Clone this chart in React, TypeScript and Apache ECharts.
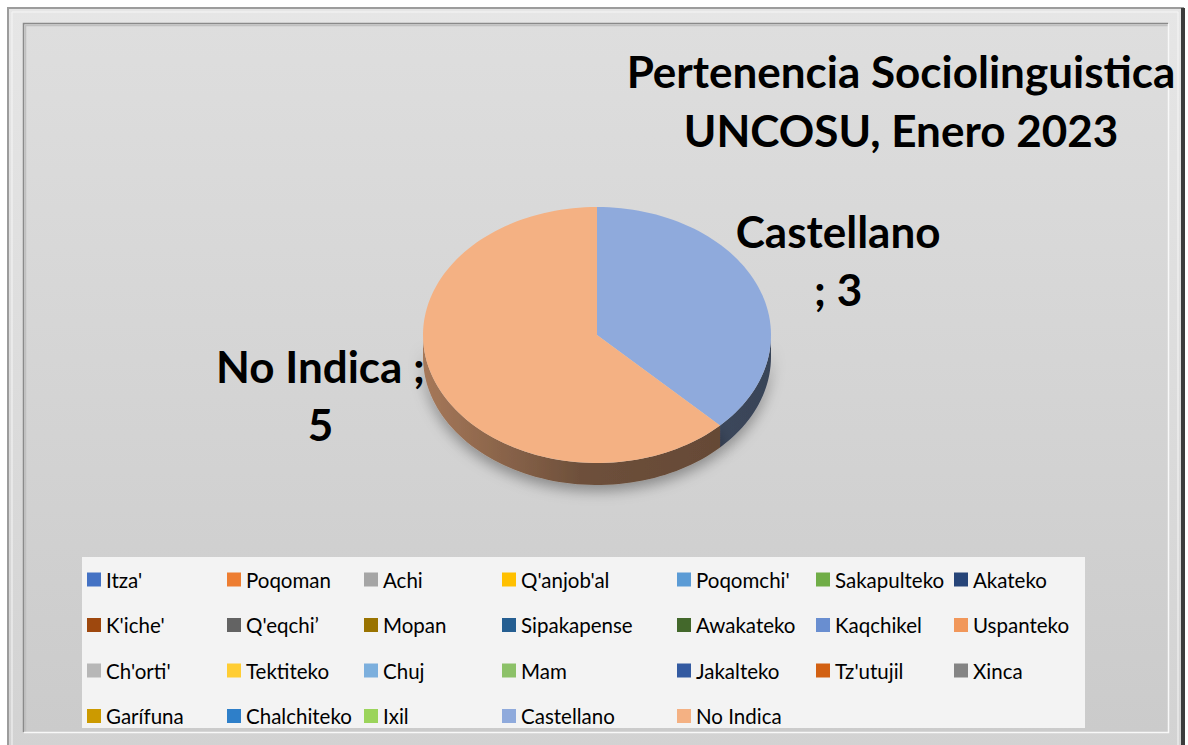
import React, { useEffect, useRef } from "react";
import * as echarts from "echarts";

// ---- data ----
const categories: string[] = [
  "Itza'", "Poqoman", "Achi", "Q'anjob'al", "Poqomchi'", "Sakapulteko", "Akateko",
  "K'iche'", "Q'eqchi’", "Mopan", "Sipakapense", "Awakateko", "Kaqchikel", "Uspanteko",
  "Ch'orti'", "Tektiteko", "Chuj", "Mam", "Jakalteko", "Tz'utujil", "Xinca",
  "Garífuna", "Chalchiteko", "Ixil", "Castellano", "No Indica",
];
const values: number[] = [
  0, 0, 0, 0, 0, 0, 0,
  0, 0, 0, 0, 0, 0, 0,
  0, 0, 0, 0, 0, 0, 0,
  0, 0, 0, 3, 5,
];
const colors: string[] = [
  "#4472c4", "#ed7d31", "#a5a5a5", "#ffc000", "#5b9bd5", "#70ad47", "#264478",
  "#9e480e", "#636363", "#997300", "#255e91", "#43682b", "#698ed0", "#f1975a",
  "#b7b7b7", "#ffcd33", "#7cafdd", "#8cc168", "#335aa1", "#d26012", "#848484",
  "#cc9a00", "#2e7fc9", "#9bd45b", "#8faadc", "#f4b183",
];
const titleLines: string[] = ["Pertenencia Sociolinguistica", "UNCOSU, Enero 2023"];

// ---- layout ----
const W = 1188;
const H = 745;
const CX = 597;
const CY = 335;
const RX = 174;
const RY = 128;
const DEPTH = 22;
const LEGEND_COLS = 7;
const LEGEND_X = [87, 227, 364, 502, 677, 816, 954];
const FONT = "Lato, 'Open Sans', sans-serif";

const total = values.reduce((a, b) => a + b, 0);
const startOf = (k: number) => values.slice(0, k).reduce((a, b) => a + b, 0);

function shade(hex: string, f: number): string {
  const h = hex.replace("#", "");
  const r = Math.round(parseInt(h.slice(0, 2), 16) * f);
  const g = Math.round(parseInt(h.slice(2, 4), 16) * f);
  const b = Math.round(parseInt(h.slice(4, 6), 16) * f);
  return `rgb(${r},${g},${b})`;
}

function wrapLabel(text: string, maxChars: number): string {
  const words = text.split(" ");
  const lines: string[] = [];
  let cur = "";
  for (const w of words) {
    const next = cur ? cur + " " + w : w;
    if (next.length > maxChars && cur) {
      lines.push(cur);
      cur = w;
    } else cur = next;
  }
  if (cur) lines.push(cur);
  return lines.join("\n");
}

const pt = (t: number, dy = 0) => [CX + RX * Math.sin(t), CY - RY * Math.cos(t) + dy];

function arcPoints(a: number, b: number, dy = 0) {
  const pts: number[][] = [];
  const n = Math.max(2, Math.ceil(((b - a) / (2 * Math.PI)) * 180));
  for (let i = 0; i <= n; i++) pts.push(pt(a + ((b - a) * i) / n, dy));
  return pts;
}

function makeRenderItem(k: number) {
  return (params: any, api: any) => {
    const v = api.value(0);
    if (!v) return { type: "group", children: [] };
    const a0 = (startOf(k) / total) * Math.PI * 2;
    const a1 = ((startOf(k) + v) / total) * Math.PI * 2;
    const base = colors[k];
    const children: any[] = [];
    const s = Math.max(a0, Math.PI / 2);
    const e = Math.min(a1, (Math.PI * 3) / 2);
    if (e > s) {
      const top = arcPoints(s, e, 0);
      const bot = arcPoints(s, e, DEPTH).reverse();
      children.push({
        type: "polygon",
        shape: { points: top.concat(bot) },
        style: {
          fill: {
            type: "linear",
            x: CX - RX,
            y: 0,
            x2: CX + RX,
            y2: 0,
            global: true,
            colorStops: [
              { offset: 0, color: shade(base, 0.68) },
              { offset: 0.45, color: shade(base, 0.45) },
              { offset: 1, color: shade(base, 0.4) },
            ],
          },
          shadowBlur: 14,
          shadowColor: "rgba(0,0,0,0.35)",
          shadowOffsetY: 6,
        },
      });
    }
    children.push({
      type: "polygon",
      shape: { points: [[CX, CY]].concat(arcPoints(a0, a1, 0)) },
      style: { fill: base },
    });
    const mid = (a0 + a1) / 2;
    const left = Math.sin(mid) < 0;
    const fx = left ? 1.72 : 1.5;
    const fy = left ? 1.22 : 1.53;
    children.push({
      type: "text",
      x: CX + RX * Math.sin(mid) * fx,
      y: CY - RY * Math.cos(mid) * fy,
      style: {
        text: wrapLabel(`${categories[k]} ; ${v}`, 11),
        align: "center",
        verticalAlign: "middle",
        fontFamily: FONT,
        fontWeight: "bold",
        fontSize: 44,
        lineHeight: 58,
        fill: "#000",
      },
    });
    return { type: "group", children };
  };
}

export default function App() {
  const ref = useRef<HTMLDivElement>(null);
  useEffect(() => {
    if (!ref.current) return;
    const chart = echarts.init(ref.current, null, { renderer: "svg" });

    const series = categories.map((name, k) => ({
      type: "custom",
      name,
      coordinateSystem: "none",
      itemStyle: { color: colors[k] },
      data: [[values[k]]],
      renderItem: makeRenderItem(k),
      silent: true,
    }));

    const legends = LEGEND_X.map((x, c) => {
      const names: string[] = [];
      for (let i = c; i < categories.length; i += LEGEND_COLS) names.push(categories[i]);
      return {
        orient: "vertical",
        left: x,
        top: 569,
        itemWidth: 14,
        itemHeight: 14,
        itemGap: 24.5,
        icon: "rect",
        selectedMode: false,
        padding: 0,
        data: names.map((n) => ({ name: n, itemStyle: { color: colors[categories.indexOf(n)] } })),
        textStyle: { fontFamily: FONT, fontSize: 20.5, lineHeight: 20, color: "#000", padding: [0, 0, 0, 0] },
      };
    });

    chart.setOption({
      animation: false,
      graphic: [
        {
          type: "rect",
          z: -10,
          shape: { x: 8, y: 8, width: 1175, height: 745 },
          style: {
            fill: { type: "linear", x: 0, y: 0, x2: 0, y2: 1, colorStops: [{ offset: 0, color: "#e6e6e6" }, { offset: 1, color: "#d2d2d2" }] },
            stroke: "#9c9c9c",
            lineWidth: 2,
          },
        },
        { type: "rect", z: -9, shape: { x: 12, y: 12, width: 1166, height: 740 }, style: { fill: "none", stroke: "#f6f6f6", lineWidth: 1 } },
        { type: "rect", z: -9, shape: { x: 1181, y: 8, width: 4, height: 737 }, style: { fill: "#3c3c3c" } },
        {
          type: "rect",
          z: -8,
          shape: { x: 23, y: 23, width: 1145, height: 709 },
          style: {
            fill: { type: "linear", x: 0, y: 0, x2: 0, y2: 1, colorStops: [{ offset: 0, color: "#dedede" }, { offset: 1, color: "#cbcbcb" }] },
          },
        },
        { type: "polyline", z: -7, shape: { points: [[23.5, 732], [23.5, 23.5], [1168, 23.5]] }, style: { stroke: "#8a8a8a", lineWidth: 1.5, fill: "none" } },
        { type: "polyline", z: -7, shape: { points: [[25.5, 732], [25.5, 25.5], [1168, 25.5]] }, style: { stroke: "#c0c0c0", lineWidth: 1.5, fill: "none" } },
        { type: "polyline", z: -7, shape: { points: [[24, 732.5], [1168.5, 732.5], [1168.5, 24]] }, style: { stroke: "#f8f8f8", lineWidth: 1.5, fill: "none" } },
        { type: "rect", z: -6, shape: { x: 82, y: 557, width: 1003, height: 171 }, style: { fill: "#f3f3f3" } },
        {
          type: "text",
          z: 5,
          x: 901,
          y: 100,
          style: {
            text: titleLines.join("\n"),
            align: "center",
            verticalAlign: "middle",
            fontFamily: FONT,
            fontWeight: "bold",
            fontSize: 44,
            lineHeight: 59,
            fill: "#000",
          },
        },
      ],
      legend: legends,
      series,
    });
    return () => chart.dispose();
  }, []);
  return <div ref={ref} style={{ position: "absolute", left: 0, top: 0, width: W, height: H }} />;
}
